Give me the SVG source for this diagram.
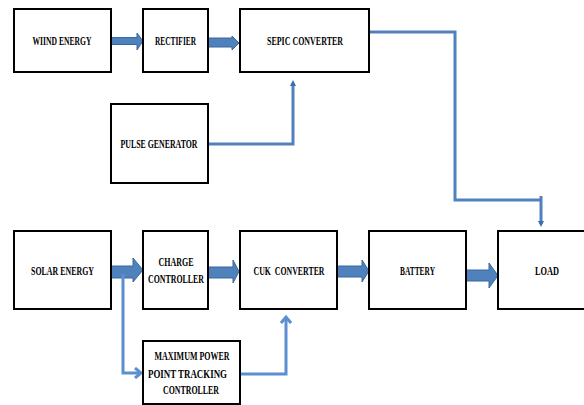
<svg xmlns="http://www.w3.org/2000/svg" width="584" height="405" viewBox="0 0 584 405">
<style>
.box{fill:#fff;stroke:#000;stroke-width:2}
.t{font-family:"Liberation Serif","Times New Roman",serif;font-weight:bold;font-size:12px;fill:#000;text-anchor:middle;white-space:pre}
.blk{fill:#4f81bd;stroke:#3a679c;stroke-width:1}
.ln{fill:none;stroke:#4f81bd;stroke-width:3}
.ln2{fill:none;stroke:#5b8fd0;stroke-width:3}
</style>
<defs>
<marker id="ah" markerWidth="6" markerHeight="6" refX="3" refY="3" orient="auto" markerUnits="userSpaceOnUse">
<path d="M0,0 L6,3 L0,6 Z" fill="#3f6fa8"/>
</marker>
<marker id="ov" markerWidth="10" markerHeight="12" refX="7" refY="6" orient="auto" markerUnits="userSpaceOnUse">
<path d="M1,1 L7,6 L1,11" fill="none" stroke="#5b8fd0" stroke-width="3"/>
</marker>
</defs>
<g id="connectors">
<path class="blk" d="M111,37.5 H137 V33 L143,41 L137,50 V44.5 H111 Z"/>
<path class="blk" d="M208,38 H232 V36 L239,43 L232,50 V47 H208 Z"/>
<path class="ln" d="M208,144 H293 V83" marker-end="url(#ah)"/>
<path class="ln" d="M369,32 H455 V200 H541"/>
<path class="ln" d="M541,196 V224" stroke="#3f6fa8" marker-end="url(#ah)"/>
<path class="blk" d="M111,266 H133 V258 L143,270 L133,282 V278 H111 Z"/>
<path class="blk" d="M208,267 H233 V260 L239,271.5 L233,283 V278 H208 Z"/>
<path class="blk" d="M337,266 H362 V260 L369,271 L362,282 V277 H337 Z"/>
<path class="blk" d="M466,270 H489 V263 L498,275.5 L489,288 V281 H466 Z"/>
<path class="ln2" d="M123,274 V373 H141" marker-end="url(#ov)"/>
<path class="ln2" d="M240,374 H286 V317" marker-end="url(#ov)"/>
</g>
<g id="wind"><rect class="box" x="14" y="9" width="97" height="63"/><text class="t" x="62" y="45" textLength="59" lengthAdjust="spacingAndGlyphs">WIIND ENERGY</text></g>
<g id="rectifier"><rect class="box" x="143" y="9" width="65" height="63"/><text class="t" x="175.5" y="45" textLength="41" lengthAdjust="spacingAndGlyphs">RECTIFIER</text></g>
<g id="sepic"><rect class="box" x="240" y="9" width="129" height="63"/><text class="t" x="305" y="45" textLength="76" lengthAdjust="spacingAndGlyphs">SEPIC CONVERTER</text></g>
<g id="pulse"><rect class="box" x="111" y="104" width="97" height="79"/><text class="t" x="159" y="148" textLength="77" lengthAdjust="spacingAndGlyphs">PULSE GENERATOR</text></g>
<g id="solar"><rect class="box" x="14" y="231" width="97" height="78"/><text class="t" x="62.5" y="275" textLength="63" lengthAdjust="spacingAndGlyphs">SOLAR ENERGY</text></g>
<g id="charge"><rect class="box" x="143" y="231" width="65" height="78"/><text class="t" x="176" y="266" textLength="35" lengthAdjust="spacingAndGlyphs">CHARGE</text><text class="t" x="176" y="283" textLength="56" lengthAdjust="spacingAndGlyphs">CONTROLLER</text></g>
<g id="cuk"><rect class="box" x="240" y="231" width="97" height="78"/><text class="t" x="289" y="275" textLength="71" lengthAdjust="spacingAndGlyphs">CUK  CONVERTER</text></g>
<g id="battery"><rect class="box" x="369" y="231" width="97" height="78"/><text class="t" x="417.5" y="275" textLength="35" lengthAdjust="spacingAndGlyphs">BATTERY</text></g>
<g id="load"><rect class="box" x="498" y="231" width="100" height="78"/><text class="t" x="547" y="275" textLength="24" lengthAdjust="spacingAndGlyphs">LOAD</text></g>
<g id="mppt"><rect class="box" x="143" y="341" width="97" height="63"/><text class="t" x="192" y="360" textLength="75" lengthAdjust="spacingAndGlyphs">MAXIMUM POWER</text><text class="t" x="187.5" y="378" textLength="79" lengthAdjust="spacingAndGlyphs">POINT TRACKING</text><text class="t" x="191" y="394" textLength="56" lengthAdjust="spacingAndGlyphs">CONTROLLER</text></g>
</svg>
